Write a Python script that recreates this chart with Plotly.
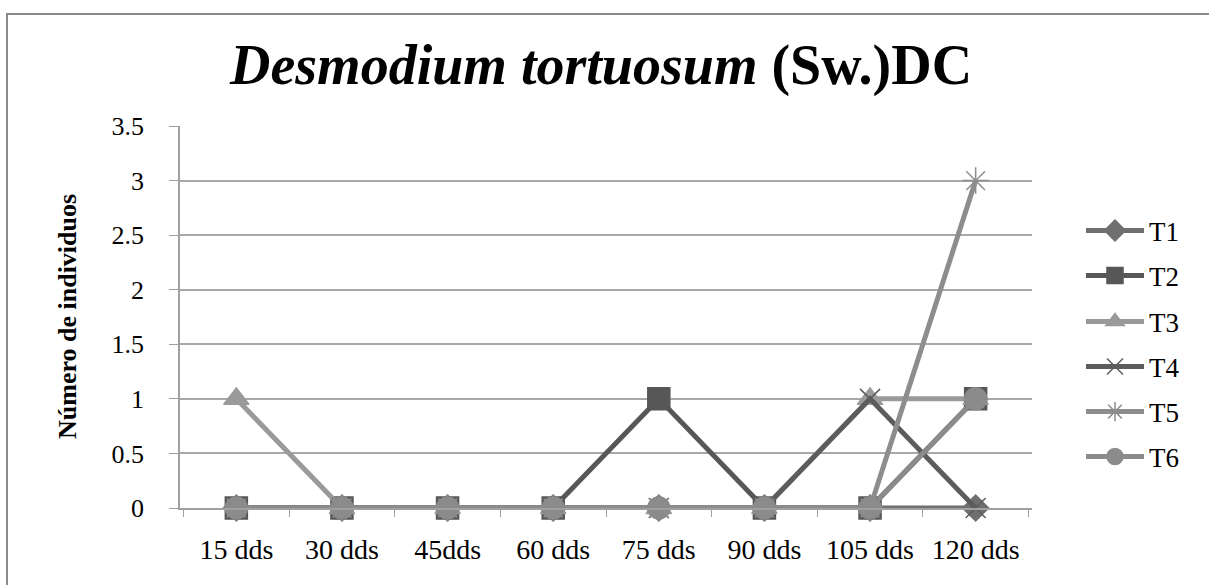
import plotly.graph_objects as go

# chart data
dias = ["15 dds", "30 dds", "45dds", "60 dds", "75 dds", "90 dds", "105 dds", "120 dds"]
t1 = [0, 0, 0, 0, 0, 0, 0, 0]
t2 = [0, 0, 0, 0, 1, 0, 0, 1]
t3 = [1, 0, 0, 0, 0, 0, 1, 1]
t4 = [0, 0, 0, 0, 0, 0, 1, 0]
t5 = [0, 0, 0, 0, 0, 0, 0, 3]
t6 = [0, 0, 0, 0, 0, 0, 0, 1]

W, H = 1209, 585
SERIF = "Liberation Serif, Times New Roman, serif"

series = [
    ("T1", t1, "#6f6f6f", "diamond", 20),
    ("T2", t2, "#575757", "square", 22),
    ("T3", t3, "#9a9a9a", "triangle-up", 22),
    ("T4", t4, "#5c5c5c", "x-thin", 20),
    ("T5", t5, "#8d8d8d", "asterisk", 22),
    ("T6", t6, "#8b8b8b", "circle", 22),
]
legend_y = [231, 276, 322, 367, 412, 457]

fig = go.Figure()
legends = {}
for i, (name, vals, col, sym, sz) in enumerate(series):
    key = "legend" if i == 0 else f"legend{i + 1}"
    fig.add_trace(go.Scatter(
        x=dias, y=vals, name=name, mode="lines+markers", cliponaxis=False,
        legend=key,
        line=dict(color=col, width=5),
        marker=dict(symbol=sym, size=sz, color=col,
                    line=dict(color=col, width=1.5)),
    ))
    legends[key] = dict(x=1081 / W, y=1 - legend_y[i] / H,
                        xanchor="left", yanchor="middle",
                        font=dict(family=SERIF, size=27, color="black"),
                        itemwidth=58, bgcolor="rgba(0,0,0,0)")

# outer frame of the chart area
fig.add_shape(type="rect", xref="paper", yref="paper",
              x0=7 / W, x1=1.02, y0=-0.02, y1=1 - 14 / H,
              line=dict(color="#8a8a8a", width=2), layer="below")

fig.add_annotation(
    text="<b><i>Desmodium tortuosum</i> (Sw.)DC</b>",
    xref="paper", yref="paper", x=600 / W, y=1 - 65 / H,
    xanchor="center", yanchor="middle", showarrow=False,
    font=dict(family=SERIF, size=56, color="black"),
)

fig.add_annotation(
    text="<b>Número de individuos</b>", textangle=-90,
    xref="paper", yref="paper", x=67 / W, y=1 - 317 / H,
    xanchor="center", yanchor="middle", showarrow=False,
    font=dict(family=SERIF, size=26, color="black"),
)

fig.update_layout(
    width=W, height=H,
    margin=dict(l=0, r=0, t=0, b=0, pad=0),
    paper_bgcolor="white", plot_bgcolor="white",
    font=dict(family=SERIF, size=25, color="black"),
    showlegend=True,
    xaxis=dict(domain=[180 / W, 1032 / W], type="category", automargin=False,
               showgrid=False, showline=True, linecolor="#a0a0a0", linewidth=1.5,
               ticks="outside", tickson="boundaries", ticklen=7, tickcolor="#a0a0a0",
               ticklabelstandoff=16,
               tickfont=dict(family=SERIF, size=28), zeroline=False),
    yaxis=dict(domain=[1 - 508 / H, 1 - 126 / H], range=[0, 3.5], automargin=False,
               tickvals=[0, 0.5, 1, 1.5, 2, 2.5, 3, 3.5],
               ticktext=["0", "0.5", "1", "1.5", "2", "2.5", "3", "3.5"],
               showgrid=True, gridcolor="#a8a8a8", gridwidth=1.5,
               showline=True, linecolor="#a0a0a0", linewidth=1.5,
               ticks="outside", ticklen=9, tickcolor="#a0a0a0",
               ticklabelstandoff=20,
               tickfont=dict(family=SERIF, size=26), zeroline=False),
    **legends,
)

fig.write_html("out.html", config={"displayModeBar": False},
               post_script="document.body.style.margin='0';")
